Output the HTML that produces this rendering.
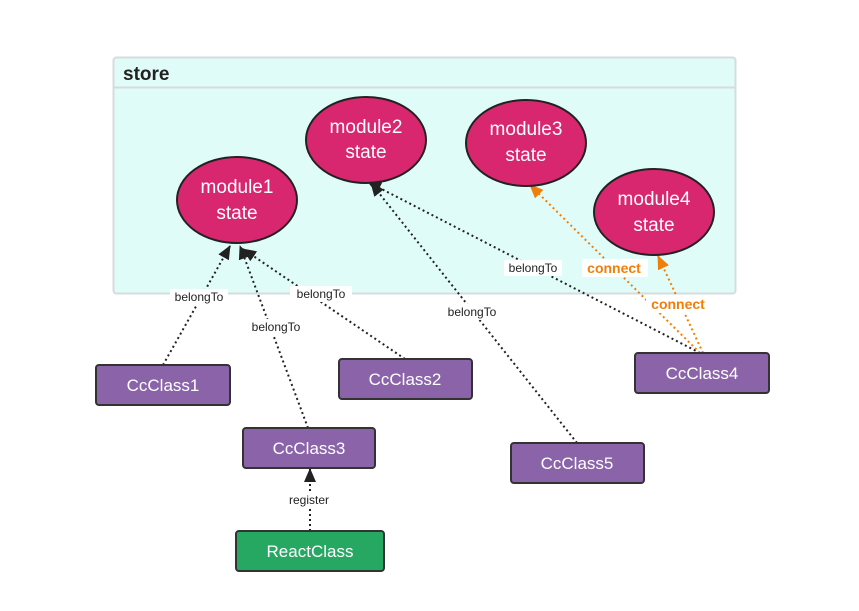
<!DOCTYPE html>
<html><head><meta charset="utf-8"><style>
html,body{margin:0;padding:0;background:#fff;}
svg{display:block;font-family:"Liberation Sans",Helvetica,Arial,sans-serif;}
</style></head><body>
<svg width="859" height="611" viewBox="0 0 859 611" xmlns="http://www.w3.org/2000/svg">
<defs>
<marker id="ab" markerWidth="14" markerHeight="12" refX="13" refY="6" orient="auto" markerUnits="userSpaceOnUse"><path d="M0,0 L14,6 L0,12 z" fill="#222"/></marker>
<marker id="ao" markerWidth="14" markerHeight="12" refX="13" refY="6" orient="auto" markerUnits="userSpaceOnUse"><path d="M0,0 L14,6 L0,12 z" fill="#f07f0a"/></marker>
</defs>
<rect x="113.5" y="57.5" width="622" height="236" rx="3" fill="#e0fcf8" stroke="#d6dcdc" stroke-width="2"/>
<line x1="114" y1="87.5" x2="735" y2="87.5" stroke="#d6dcdc" stroke-width="2"/>
<text x="123" y="80" font-size="19" font-weight="bold" fill="#222">store</text>

<g stroke="#222" stroke-width="2" stroke-dasharray="2,3" fill="none">
<line x1="163" y1="365" x2="230" y2="246" marker-end="url(#ab)"/>
<line x1="308" y1="428" x2="240" y2="246" marker-end="url(#ab)"/>
<line x1="405" y1="359" x2="243" y2="249" marker-end="url(#ab)"/>
<line x1="577" y1="443" x2="371" y2="183" marker-end="url(#ab)"/>
<line x1="700" y1="353" x2="368" y2="182" marker-end="url(#ab)"/>
<line x1="310" y1="531" x2="310" y2="469" marker-end="url(#ab)"/>
</g>
<g stroke="#f07f0a" stroke-width="2" stroke-dasharray="2,3" fill="none">
<line x1="700" y1="353" x2="530" y2="185" marker-end="url(#ao)"/>
<line x1="703" y1="353" x2="658" y2="256" marker-end="url(#ao)"/>
</g>

<g fill="#d9276f" stroke="#222" stroke-width="2">
<ellipse cx="237" cy="200" rx="60" ry="43"/>
<ellipse cx="366" cy="140" rx="60" ry="43"/>
<ellipse cx="526" cy="143" rx="60" ry="43"/>
<ellipse cx="654" cy="212" rx="60" ry="43"/>
</g>
<g fill="#fff" font-size="19" text-anchor="middle">
<text x="237" y="193">module1</text><text x="237" y="219">state</text>
<text x="366" y="133">module2</text><text x="366" y="158">state</text>
<text x="526" y="135">module3</text><text x="526" y="161">state</text>
<text x="654" y="205">module4</text><text x="654" y="231">state</text>
</g>

<g stroke="#333" stroke-width="2">
<rect x="96" y="365" width="134" height="40" rx="3" fill="#8a63a8"/>
<rect x="339" y="359" width="133" height="40" rx="3" fill="#8a63a8"/>
<rect x="243" y="428" width="132" height="40" rx="3" fill="#8a63a8"/>
<rect x="635" y="353" width="134" height="40" rx="3" fill="#8a63a8"/>
<rect x="511" y="443" width="133" height="40" rx="3" fill="#8a63a8"/>
<rect x="236" y="531" width="148" height="40" rx="3" fill="#27a862"/>
</g>
<g fill="#fff" font-size="17" text-anchor="middle">
<text x="163" y="391">CcClass1</text>
<text x="405" y="385">CcClass2</text>
<text x="309" y="454">CcClass3</text>
<text x="702" y="379">CcClass4</text>
<text x="577" y="469">CcClass5</text>
<text x="310" y="557">ReactClass</text>
</g>

<g font-size="12" fill="#222" text-anchor="middle">
<rect x="170" y="289" width="58" height="16" fill="#fff"/><text x="199" y="301">belongTo</text>
<rect x="290" y="286" width="62" height="16" fill="#fff"/><text x="321" y="298">belongTo</text>
<rect x="246" y="319" width="60" height="16" fill="#fff"/><text x="276" y="331">belongTo</text>
<rect x="442" y="304" width="60" height="16" fill="#fff"/><text x="472" y="316">belongTo</text>
<rect x="504" y="260" width="58" height="16" fill="#fff"/><text x="533" y="272">belongTo</text>
<rect x="284" y="492" width="50" height="16" fill="#fff"/><text x="309" y="504">register</text>
</g>
<g font-size="14" font-weight="bold" fill="#f07f0a" text-anchor="middle">
<rect x="582" y="259" width="66" height="18" fill="#fff"/><text x="614" y="273">connect</text>
<rect x="646" y="295" width="64" height="18" fill="#fff"/><text x="678" y="309">connect</text>
</g>
</svg>
</body></html>
